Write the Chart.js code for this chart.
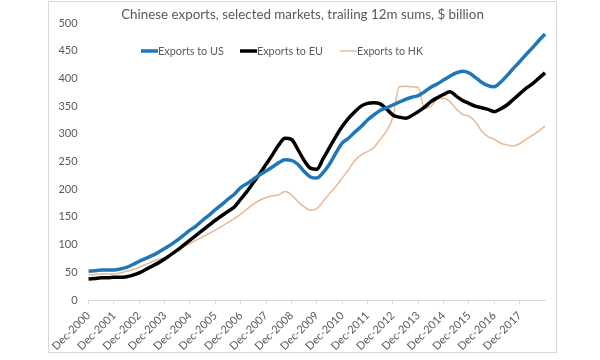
<!DOCTYPE html>
<html>
<head>
<meta charset="utf-8">
<script src="https://cdn.jsdelivr.net/npm/chart.js@4"></script>
<style>
  html, body { margin: 0; padding: 0; background: #ffffff; }
  #frame { position: absolute; left: 48px; top: 1px; width: 507px; height: 350px; border: 1px solid #d9d9d9; }
  canvas { display: block; }
</style>
</head>
<body>
<div id="frame"><canvas id="exportsChart" width="507" height="350"></canvas></div>
<script>
//Quarter-end labels, Dec-2000 to Dec-2018
const quarters = [
  "Dec-2000",
  "Mar-2001","Jun-2001","Sep-2001","Dec-2001",
  "Mar-2002","Jun-2002","Sep-2002","Dec-2002",
  "Mar-2003","Jun-2003","Sep-2003","Dec-2003",
  "Mar-2004","Jun-2004","Sep-2004","Dec-2004",
  "Mar-2005","Jun-2005","Sep-2005","Dec-2005",
  "Mar-2006","Jun-2006","Sep-2006","Dec-2006",
  "Mar-2007","Jun-2007","Sep-2007","Dec-2007",
  "Mar-2008","Jun-2008","Sep-2008","Dec-2008",
  "Mar-2009","Jun-2009","Sep-2009","Dec-2009",
  "Mar-2010","Jun-2010","Sep-2010","Dec-2010",
  "Mar-2011","Jun-2011","Sep-2011","Dec-2011",
  "Mar-2012","Jun-2012","Sep-2012","Dec-2012",
  "Mar-2013","Jun-2013","Sep-2013","Dec-2013",
  "Mar-2014","Jun-2014","Sep-2014","Dec-2014",
  "Mar-2015","Jun-2015","Sep-2015","Dec-2015",
  "Mar-2016","Jun-2016","Sep-2016","Dec-2016",
  "Mar-2017","Jun-2017","Sep-2017","Dec-2017",
  "Mar-2018","Jun-2018","Sep-2018","Dec-2018"
];

//Trailing 12m sums, $ billion
const exportsUS = [
  52,
  53, 54, 54, 54,
  56, 59, 64, 70,
  75, 80, 86, 93,
  100, 108, 117, 126,
  134, 144, 153, 163,
  172, 182, 191, 203,
  210, 218, 226, 233,
  240, 248, 253, 252,
  245, 232, 222, 220,
  230, 245, 265, 283,
  292, 303, 313, 325,
  334, 342, 347, 352,
  357, 362, 366, 369,
  376, 384, 390, 397,
  404, 410, 413, 410,
  402, 393, 387, 385,
  393, 405, 418, 430,
  443, 455, 468, 480
];

const exportsEU = [
  38,
  39, 40, 40, 41,
  41, 42, 45, 49,
  55, 61, 67, 74,
  82, 90, 99, 108,
  117, 126, 135, 144,
  152, 160, 168, 182,
  196, 212, 228, 245,
  262, 280, 292, 290,
  272, 252, 238, 236,
  255, 275, 295, 313,
  328, 340, 350, 355,
  356, 354, 345, 334,
  330, 328, 333, 340,
  348, 358, 365, 371,
  376, 368, 360, 355,
  350, 347, 344, 340,
  345, 352, 362, 372,
  382, 390, 400, 410
];

const exportsHK = [
  45,
  46, 47, 47, 47,
  49, 52, 55, 59,
  64, 69, 73, 77,
  83, 90, 96, 102,
  108, 114, 120, 126,
  133, 140, 147, 155,
  164, 173, 180, 185,
  188, 190, 196, 190,
  178, 168, 162, 165,
  178, 192, 205, 220,
  235, 252, 262, 268,
  275, 290, 305, 330,
  385, 386, 385, 384,
  345, 350, 362, 364,
  358, 345, 335, 332,
  322, 305, 295, 290,
  283, 280, 278, 282,
  290, 297, 305, 314
];

const yTicks = [0, 50, 100, 150, 200, 250, 300, 350, 400, 450, 500];

const titleText = "Chinese exports, selected markets, trailing 12m sums, $ billion";
const textColor = '#595959';
const fontFamily = 'Lato, "Open Sans", sans-serif';

//Title and legend sit over the plot area, like the spreadsheet chart
const overlayText = {
  id: 'overlayText',
  afterDraw(chart) {
    const ctx = chart.ctx;
    ctx.save();
    ctx.fillStyle = textColor;
    ctx.textBaseline = 'middle';

    //title, fitted to the width it has in the picture
    ctx.font = '14px ' + fontFamily;
    let w = ctx.measureText(titleText).width;
    let size = 14 * 363 / w;
    ctx.font = size.toFixed(2) + 'px ' + fontFamily;
    ctx.textAlign = 'center';
    ctx.fillText(titleText, 253.5, 13);

    //legend
    ctx.textAlign = 'left';
    const starts = [92, 191, 291];
    chart.data.datasets.forEach((ds, i) => {
      ctx.font = '11px ' + fontFamily;
      let tw = ctx.measureText(ds.label).width;
      ctx.font = (11 * 66 / tw).toFixed(2) + 'px ' + fontFamily;
      ctx.strokeStyle = ds.borderColor;
      ctx.lineWidth = ds.borderWidth;
      ctx.beginPath();
      ctx.moveTo(starts[i], 49);
      ctx.lineTo(starts[i] + 17, 49);
      ctx.stroke();
      ctx.fillText(ds.label, starts[i] + 17, 49.5);
    });
    ctx.restore();
  }
};

function lineSet(label, data, color, width) {
  return {
    label: label,
    data: data,
    borderColor: color,
    backgroundColor: color,
    borderWidth: width,
    pointRadius: 0,
    cubicInterpolationMode: 'monotone',
    fill: false
  };
}

const ctx = document.getElementById('exportsChart');

exportsChart = new Chart(ctx, {
  type: 'line',
  data: {
    labels: quarters,
    datasets: [
      lineSet('Exports to US', exportsUS, '#1f77b8', 3.5),
      lineSet('Exports to EU', exportsEU, '#000000', 3.5),
      lineSet('Exports to HK', exportsHK, '#e8b896', 1.5)
    ]
  },
  options: {
    responsive: false,
    animation: false,
    layout: { padding: { left: 0, right: 11, top: 21, bottom: 0 } },
    plugins: {
      legend: { display: false },
      title: { display: false },
      tooltip: { enabled: false }
    },
    scales: {
      x: {
        type: 'category',
        offset: false,
        border: { display: true, color: '#d9d9d9', width: 1 },
        grid: { display: true, drawOnChartArea: false, drawTicks: true, tickLength: 4, color: '#d9d9d9' },
        ticks: {
          autoSkip: false,
          minRotation: 45,
          maxRotation: 45,
          padding: 5,
          color: textColor,
          font: { family: fontFamily, size: 11 },
          callback: function(value) {
            let lab = this.getLabelForValue(value);
            if (lab.startsWith('Dec') && lab !== 'Dec-2018') return lab;
            return null;
          }
        },
        afterFit: function(scale) { scale.height = 52; }
      },
      y: {
        min: 0,
        max: 500,
        border: { display: false },
        grid: { display: false, drawTicks: false },
        ticks: {
          padding: 11,
          color: textColor,
          font: { family: fontFamily, size: 11 }
        },
        afterBuildTicks: function(scale) {
          scale.ticks = yTicks.map(v => ({ value: v }));
        },
        afterFit: function(scale) { scale.width = 34; }
      }
    }
  },
  plugins: [overlayText]
});
</script>
</body>
</html>
